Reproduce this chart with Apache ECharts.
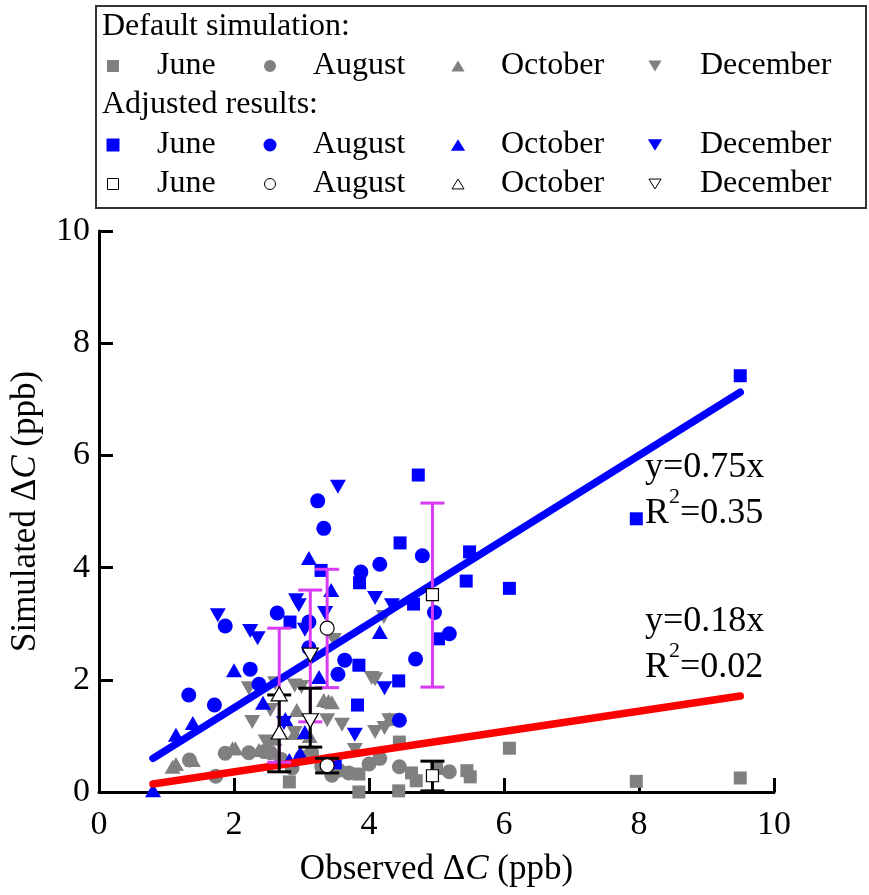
<!DOCTYPE html>
<html>
<head>
<meta charset="utf-8">
<script src="https://cdn.jsdelivr.net/npm/echarts@6/dist/echarts.min.js"></script>
<style>
  html, body { margin: 0; padding: 0; background: #fff; }
  #chart { width: 869px; height: 895px; }
</style>
</head>
<body>
<div id="chart"></div>
<script>
// ---- data (observed ΔC, simulated ΔC), ppb ----
const months = ['June', 'August', 'October', 'December'];

// default simulation
const defaultJune = [[2.82,0.18],[3.85,0.0],[3.85,0.32],[4.44,0.02],[4.45,0.89],[4.63,0.34],[4.7,0.2],[5.0,0.42],[5.45,0.38],[5.5,0.27],[6.08,0.78],[7.96,0.19],[9.5,0.25]];
const defaultAugust = [[1.34,0.57],[1.73,0.28],[1.87,0.69],[2.22,0.7],[2.45,0.72],[2.54,0.7],[2.86,0.43],[3.0,0.62],[3.3,0.45],[3.45,0.3],[3.55,0.39],[3.7,0.34],[4.0,0.5],[4.16,0.6],[4.45,0.45],[5.19,0.36],[2.7,0.58],[3.15,0.7]];
const defaultOctober = [[1.09,0.45],[1.14,0.5],[1.39,0.57],[1.98,0.78],[2.02,0.78],[2.37,0.75],[2.6,0.95],[2.93,1.46],[3.33,1.64],[3.45,1.6],[3.12,1.0],[4.3,1.3],[2.9,1.05],[3.4,1.62]];
const defaultDecember = [[2.22,1.85],[2.27,1.25],[2.54,1.46],[2.61,1.94],[2.9,1.9],[3.0,1.87],[3.38,1.28],[3.48,2.71],[4.04,2.03],[4.09,2.01],[4.23,1.14],[4.3,1.28],[4.09,1.07],[3.79,0.75],[2.47,0.9],[2.9,1.05],[4.22,3.12],[3.6,1.2]];

// adjusted results
const adjustedJune = [[9.5,7.42],[7.96,4.87],[4.73,5.65],[4.46,4.44],[5.49,4.28],[5.44,3.76],[6.08,3.63],[4.66,3.35],[3.86,3.73],[5.03,2.73],[3.85,2.26],[4.44,1.98],[3.83,1.55],[3.29,3.95],[2.83,3.03],[3.5,0.52]];
const adjustedAugust = [[3.24,5.19],[3.33,4.7],[4.79,4.21],[4.16,4.06],[3.88,3.92],[4.97,3.2],[5.19,2.82],[4.69,2.37],[3.64,2.35],[3.54,2.1],[4.45,1.28],[2.64,3.19],[1.87,2.96],[3.11,3.03],[3.11,2.57],[2.24,2.19],[1.33,1.73],[1.71,1.55],[2.37,1.92]];
const adjustedOctober = [[3.11,4.17],[3.44,3.6],[4.16,2.85],[3.26,2.05],[2.0,2.17],[2.43,1.59],[1.14,1.02],[1.39,1.23],[3.05,1.07],[2.82,0.57],[2.98,0.69],[0.8,0.03],[2.76,1.3]];
const adjustedDecember = [[3.54,5.44],[2.92,3.42],[1.76,3.15],[2.24,2.87],[2.35,2.74],[2.96,3.33],[3.05,2.89],[3.35,3.19],[4.09,3.46],[4.34,3.33],[4.23,1.85],[3.79,1.02],[2.74,1.23]];

// monthly means with ranges (June, August, October, December)
const meanObserved = [4.94, 3.38, 2.67, 3.13];
const adjustedMean = [3.52, 2.92, 1.75, 2.44];
const adjustedLow  = [1.87, 1.86, 0.53, 1.25];
const adjustedHigh = [5.15, 3.97, 2.92, 3.60];
const defaultMean  = [0.29, 0.47, 1.07, 1.27];
const defaultLow   = [0.02, 0.34, 0.36, 0.80];
const defaultHigh  = [0.55, 0.60, 1.73, 1.85];

// linear fits through the origin
const fitSlopes = [0.75, 0.18];
const fitR2 = ['0.35', '0.02'];
const fitRange = [0.8, 9.5];

// axis ticks
const axisTicks = [0, 2, 4, 6, 8, 10];

// ---- styling helpers ----
const FONT = 'Liberation Serif, "Times New Roman", serif';
const GRAY = '#808080';
const BLUE = '#0000FF';
const MAGENTA = '#D93BF5';
const monthSymbol = ['rect', 'circle', 'triangle', 'triangle'];
const monthRotate = [0, 0, 0, 180];
const monthSize = [13, 15, [16, 14], [16, 14]];

function scatter(name, data, i, color, z) {
  return {
    type: 'scatter', name, data, z,
    symbol: monthSymbol[i], symbolRotate: monthRotate[i], symbolSize: monthSize[i],
    itemStyle: { color, opacity: 1 },
    silent: true
  };
}

function errorBars(name, lows, highs, color, z) {
  return {
    type: 'custom', name, z, silent: true,
    data: meanObserved.map((x, i) => [x, lows[i], highs[i]]),
    encode: { x: 0, y: [1, 2] },
    renderItem: (params, api) => {
      const top = api.coord([api.value(0), api.value(2)]);
      const bot = api.coord([api.value(0), api.value(1)]);
      const hw = 12;
      const style = { stroke: color, lineWidth: 3 };
      return {
        type: 'group',
        children: [
          { type: 'line', shape: { x1: top[0], y1: top[1], x2: bot[0], y2: bot[1] }, style },
          { type: 'line', shape: { x1: top[0] - hw, y1: top[1], x2: top[0] + hw, y2: top[1] }, style },
          { type: 'line', shape: { x1: bot[0] - hw, y1: bot[1], x2: bot[0] + hw, y2: bot[1] }, style }
        ]
      };
    }
  };
}

function meanMarkers(name, values, z) {
  return months.map((m, i) => ({
    type: 'scatter', name: name + ' ' + m, z, silent: true,
    data: [[meanObserved[i], values[i]]],
    symbol: monthSymbol[i], symbolRotate: monthRotate[i],
    symbolSize: [12, 14, [16, 14], [16, 14]][i],
    itemStyle: { color: '#fff', borderColor: '#000', borderWidth: 1.2, opacity: 1 }
  }));
}

function fitLine(name, slope, color) {
  return {
    type: 'line', name, z: 4, silent: true,
    data: fitRange.map(x => [x, slope * x]),
    symbol: 'none',
    lineStyle: { color, width: 7.5, cap: 'round' }
  };
}

const series = [
  scatter('Default June', defaultJune, 0, GRAY, 2),
  scatter('Default August', defaultAugust, 1, GRAY, 2),
  scatter('Default October', defaultOctober, 2, GRAY, 2),
  scatter('Default December', defaultDecember, 3, GRAY, 2),
  scatter('Adjusted June', adjustedJune, 0, BLUE, 3),
  scatter('Adjusted August', adjustedAugust, 1, BLUE, 3),
  scatter('Adjusted October', adjustedOctober, 2, BLUE, 3),
  scatter('Adjusted December', adjustedDecember, 3, BLUE, 3),
  fitLine('Adjusted fit', fitSlopes[0], BLUE),
  fitLine('Default fit', fitSlopes[1], '#FF0000'),
  errorBars('Adjusted range', adjustedLow, adjustedHigh, MAGENTA, 5),
  errorBars('Default range', defaultLow, defaultHigh, '#000', 5),
  ...meanMarkers('Adjusted mean', adjustedMean, 6),
  ...meanMarkers('Default mean', defaultMean, 6)
];

// ---- legend box drawn as graphic elements ----
const legendMarkerX = [113, 270, 458, 655];
const legendTextX = [157, 313, 501, 700];
const legendRowsY = { title1: 27, gray: 66, title2: 105, blue: 145, hollow: 184 };

function legendSymbol(i, cx, cy, fill, stroke, s) {
  const st = { fill, stroke: stroke || null, lineWidth: stroke ? 1 : 0 };
  if (i === 0) return { type: 'rect', shape: { x: cx - s / 2, y: cy - s / 2, width: s, height: s }, style: st };
  if (i === 1) return { type: 'circle', shape: { cx, cy, r: s / 2 }, style: st };
  const h = s * 0.9, w = s * 1.1;
  if (i === 2) return { type: 'polygon', shape: { points: [[cx, cy - h / 2], [cx + w / 2, cy + h / 2], [cx - w / 2, cy + h / 2]] }, style: st };
  return { type: 'polygon', shape: { points: [[cx, cy + h / 2], [cx + w / 2, cy - h / 2], [cx - w / 2, cy - h / 2]] }, style: st };
}

function legendText(text, x, y) {
  return { type: 'text', x, y, style: { text, font: '32px ' + FONT, fill: '#000', textVerticalAlign: 'middle', textAlign: 'left' } };
}

const legendGraphics = [
  { type: 'rect', shape: { x: 96, y: 6, width: 770, height: 202 }, style: { fill: '#fff', stroke: '#333', lineWidth: 2 } },
  legendText('Default simulation:', 102, legendRowsY.title1),
  legendText('Adjusted results:', 102, legendRowsY.title2)
];
months.forEach((m, i) => {
  legendGraphics.push(legendSymbol(i, legendMarkerX[i], legendRowsY.gray, GRAY, null, 12));
  legendGraphics.push(legendText(m, legendTextX[i], legendRowsY.gray));
  legendGraphics.push(legendSymbol(i, legendMarkerX[i], legendRowsY.blue, BLUE, null, 13));
  legendGraphics.push(legendText(m, legendTextX[i], legendRowsY.blue));
  legendGraphics.push(legendSymbol(i, legendMarkerX[i], legendRowsY.hollow, '#fff', '#000', 11));
  legendGraphics.push(legendText(m, legendTextX[i], legendRowsY.hollow));
});

// fit equations; the exponent token sits at the top of a taller line box
const eqRich = {
  m: { fontSize: 36, fontFamily: FONT, lineHeight: 46, verticalAlign: 'bottom', color: '#000' },
  sup: { fontSize: 22, fontFamily: FONT, lineHeight: 22, padding: [0, 0, 24, 0], verticalAlign: 'top', color: '#000' }
};
function eqText(text, y) {
  return { type: 'text', x: 645, y, style: { text, fill: '#000', textVerticalAlign: 'middle', rich: eqRich } };
}
legendGraphics.push(
  eqText('{m|y=' + fitSlopes[0].toFixed(2) + 'x}', 463),
  eqText('{m|R}{sup|2}{m|=' + fitR2[0] + '}', 509),
  eqText('{m|y=' + fitSlopes[1].toFixed(2) + 'x}', 617),
  eqText('{m|R}{sup|2}{m|=' + fitR2[1] + '}', 663)
);

const axisCommon = {
  type: 'value', min: axisTicks[0], max: axisTicks[axisTicks.length - 1], interval: axisTicks[1] - axisTicks[0],
  axisLine: { show: true, onZero: false, lineStyle: { color: '#000', width: 3 } },
  axisTick: { show: true, inside: true, length: 14, lineStyle: { color: '#000', width: 3 } },
  splitLine: { show: false },
  axisLabel: { color: '#000', fontFamily: FONT, fontSize: 34 },
  nameLocation: 'middle',
  nameTextStyle: { color: '#000', fontFamily: FONT, fontSize: 35, rich: { i: { fontStyle: 'italic', fontFamily: FONT, fontSize: 35, color: '#000' } } }
};

const chart = echarts.init(document.getElementById('chart'), null, { renderer: 'canvas' });
chart.setOption({
  backgroundColor: '#fff',
  animation: false,
  grid: { left: 96, right: 95, top: 231, bottom: 103, containLabel: false },
  xAxis: Object.assign({}, axisCommon, {
    name: 'Observed Δ{i|C} (ppb)', nameGap: 60,
    axisLabel: Object.assign({}, axisCommon.axisLabel, { margin: 16 })
  }),
  yAxis: Object.assign({}, axisCommon, {
    name: 'Simulated Δ{i|C} (ppb)', nameGap: 56,
    axisLabel: Object.assign({}, axisCommon.axisLabel, { margin: 9 })
  }),
  graphic: legendGraphics,
  series
});
</script>
</body>
</html>
